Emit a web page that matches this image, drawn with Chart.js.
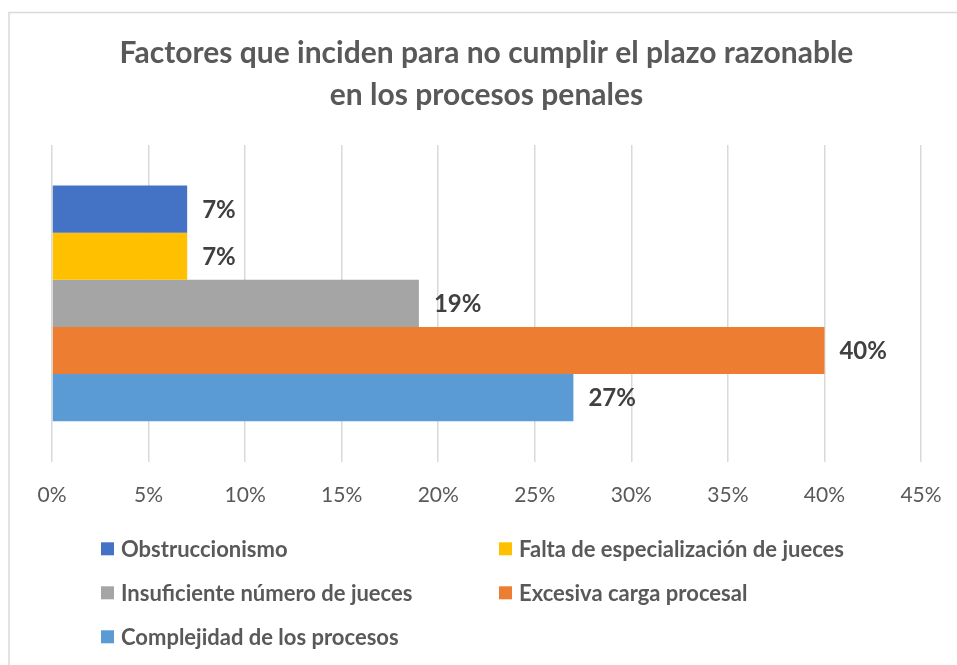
<!DOCTYPE html>
<html>
<head>
<meta charset="utf-8">
<script src="https://cdn.jsdelivr.net/npm/chart.js@4.4.1/dist/chart.umd.min.js"></script>
<style>
  html, body { margin: 0; padding: 0; background: #ffffff; }
  #wrap { width: 957px; height: 665px; }
</style>
</head>
<body>
<div id="wrap"><canvas id="c" width="957" height="665"></canvas></div>
<script>
// ---- data ----
const categories = ['Factores'];
const seriesNames = [
  'Obstruccionismo',
  'Falta de especialización de jueces',
  'Insuficiente número de jueces',
  'Excesiva carga procesal',
  'Complejidad de los procesos'
];
const seriesValues = [7, 7, 19, 40, 27];
const seriesColors = ['#4472C4', '#FFC000', '#A5A5A5', '#ED7D31', '#5B9BD5'];
const xTicks = { min: 0, max: 45, step: 5 };
const titleLines = ['Factores que inciden para no cumplir el plazo razonable', 'en los procesos penales'];

const FONT = 'Lato, "Open Sans", sans-serif';

const borderPlugin = {
  id: 'frame',
  beforeDraw(chart) {
    const ctx = chart.ctx;
    ctx.save();
    ctx.fillStyle = '#ffffff';
    ctx.fillRect(0, 0, chart.width, chart.height);
    ctx.strokeStyle = '#d9d9d9';
    ctx.lineWidth = 1.5;
    ctx.strokeRect(9, 12.5, chart.width + 20, chart.height + 20);
    ctx.restore();
  }
};

const valueLabels = {
  id: 'valueLabels',
  afterDatasetsDraw(chart) {
    const ctx = chart.ctx;
    ctx.save();
    ctx.font = 'bold 24px ' + FONT;
    ctx.fillStyle = '#404040';
    ctx.textAlign = 'left';
    ctx.textBaseline = 'middle';
    chart.data.datasets.forEach((ds, i) => {
      const meta = chart.getDatasetMeta(i);
      meta.data.forEach((el, j) => {
        ctx.fillText(ds.data[j] + '%', el.x + 15, el.y + 1);
      });
    });
    ctx.restore();
  }
};

const customLegend = {
  id: 'customLegend',
  afterDraw(chart) {
    const ctx = chart.ctx;
    const ca = chart.chartArea;
    ctx.save();
    ctx.font = 'bold 22px ' + FONT;
    ctx.textAlign = 'left';
    ctx.textBaseline = 'middle';
    const colX = [101, 499];
    const row0 = ca.bottom + 87;
    const rowGap = 44;
    chart.data.datasets.forEach((ds, i) => {
      const col = i % 2, row = Math.floor(i / 2);
      const x = colX[col], y = row0 + row * rowGap;
      ctx.fillStyle = ds.backgroundColor;
      ctx.fillRect(x, y - 6.5, 13, 13);
      ctx.fillStyle = '#595959';
      ctx.fillText(ds.label, x + 20, y + 1);
    });
    ctx.restore();
  }
};

new Chart(document.getElementById('c'), {
  type: 'bar',
  data: {
    labels: categories,
    datasets: seriesNames.map((name, i) => ({
      label: name,
      data: [seriesValues[i]],
      backgroundColor: seriesColors[i],
      borderWidth: 0,
      categoryPercentage: 0.744,
      barPercentage: 1.0
    }))
  },
  options: {
    indexAxis: 'y',
    responsive: false,
    animation: false,
    layout: { padding: { left: 52, right: 36, top: 0, bottom: 137 } },
    plugins: {
      legend: { display: false },
      tooltip: { enabled: false },
      title: {
        display: true,
        text: titleLines,
        color: '#595959',
        font: { family: FONT, size: 30, weight: 'bold', lineHeight: 1.4 },
        padding: { top: 32, bottom: 29 }
      }
    },
    scales: {
      x: {
        min: xTicks.min,
        max: xTicks.max,
        border: { display: false },
        grid: { color: '#d9d9d9', lineWidth: 1.5, drawTicks: false },
        afterFit(scale) { scale.paddingLeft = 0; scale.paddingRight = 0; },
        ticks: {
          stepSize: xTicks.step,
          padding: 20.5,
          color: '#595959',
          font: { family: FONT, size: 21 },
          callback: (v) => v + '%'
        }
      },
      y: { display: false }
    }
  },
  plugins: [borderPlugin, valueLabels, customLegend]
});
</script>
</body>
</html>
